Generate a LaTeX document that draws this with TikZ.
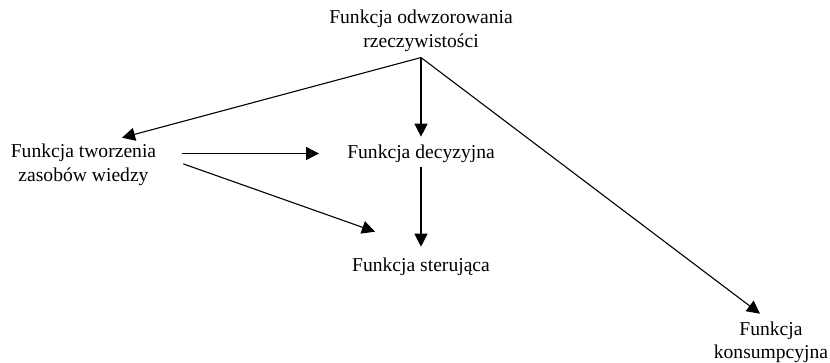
\documentclass[tikz,border=0pt]{standalone}
\usepackage{fontspec}
\setmainfont{Liberation Serif}
\usetikzlibrary{arrows.meta}

\begin{document}
\begin{tikzpicture}[x=1pt,y=1pt,
    every node/.style={align=center,inner sep=0pt,font=\fontsize{19.6}{23.3}\selectfont},
    arr/.style={-{Triangle[length=13pt,width=13pt]},line width=1.1pt}]
        \useasboundingbox (0,0) rectangle (830,363);
        \node (odw) at (421,332.2) {Funkcja odwzorowania\\rzeczywistości};
        \node (tw) at (83.5,198.1) {Funkcja tworzenia\\zasobów wiedzy};
        \node (dec) at (421,209.5) {Funkcja decyzyjna};
        \node (ster) at (421,96.5) {Funkcja sterująca};
        \node (kon) at (771,20.5) {Funkcja\\konsumpcyjna};
        \coordinate (fork) at ([yshift=-6pt]odw.south);
        \draw[arr](fork) to ([shift={(38.5,6.4)}]tw.north);
        \draw[arr](fork) to ([yshift=7.7pt]dec.north);
        \draw[arr](fork) to ([shift={(-11,8)}]kon.north);
        \draw[arr]([shift={(26,11.4)}]tw.east) to ([xshift=-28pt]dec.west);
        \draw[arr]([shift={(27,1)}]tw.east) to ([shift={(23,25.7)}]ster.north west);
        \draw[arr]([yshift=-4.7pt]dec.south) to ([yshift=10.7pt]ster.north);
    \end{tikzpicture}
\end{document}
